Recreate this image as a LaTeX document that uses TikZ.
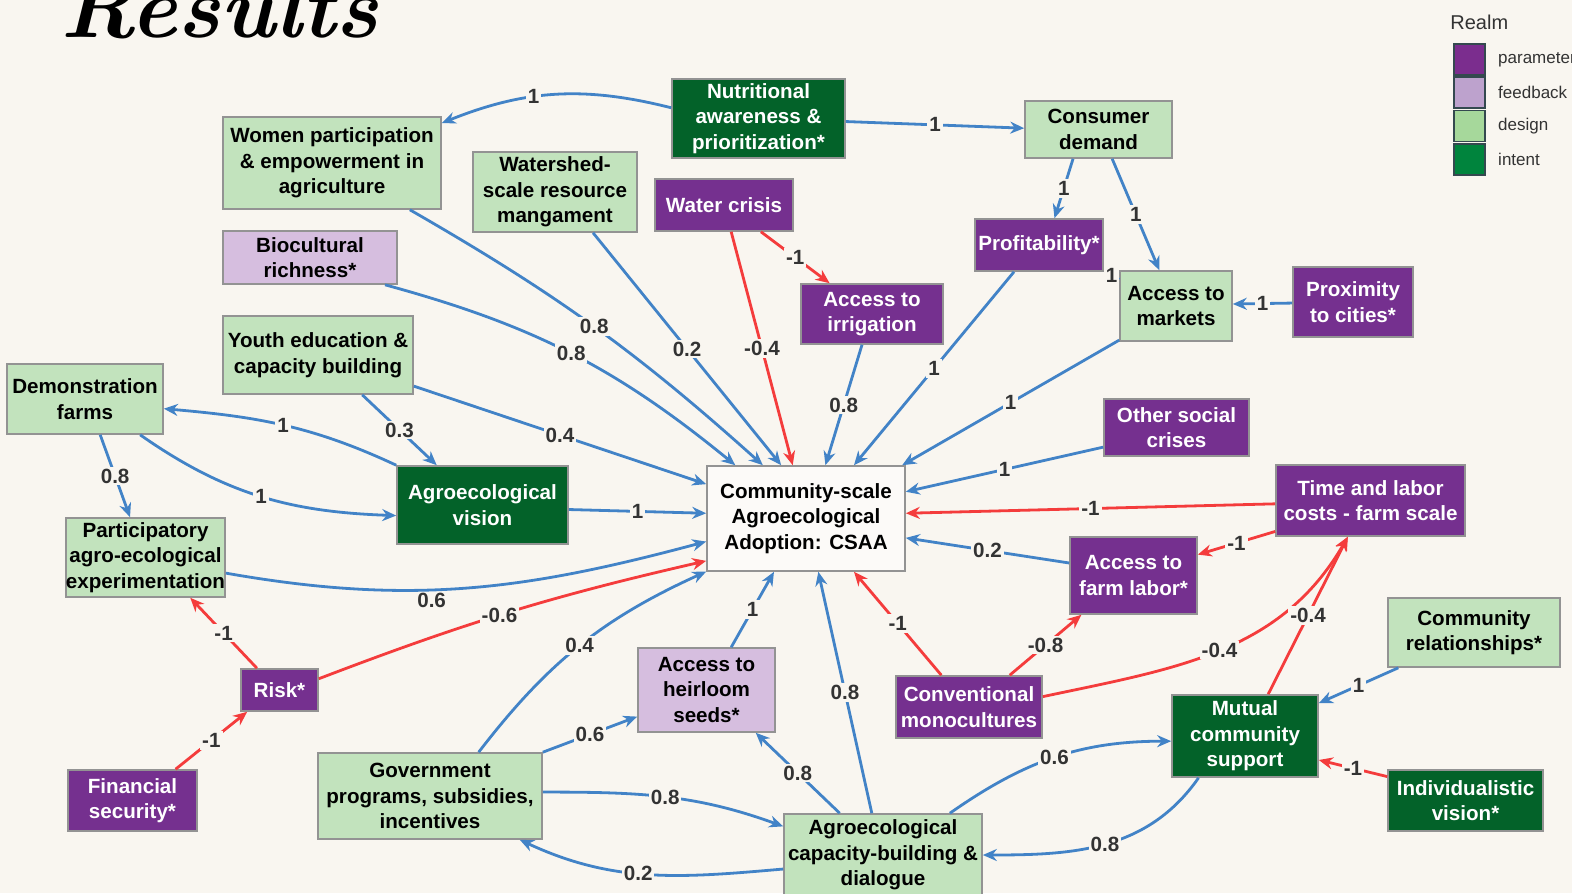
\documentclass[tikz,border=0pt]{standalone}
\usepackage{fontspec}
\newfontfamily\arialfont{Liberation Sans}
\usetikzlibrary{arrows.meta,positioning}

\definecolor{bg}{HTML}{F9F6F0}
\definecolor{parcol}{HTML}{75308F}
\definecolor{fbcol}{HTML}{D6BEDF}
\definecolor{descol}{HTML}{C2E3BD}
\definecolor{intcol}{HTML}{036229}
\definecolor{edgeblue}{HTML}{4283C7}
\definecolor{edgered}{HTML}{F43C3C}
\definecolor{rim}{HTML}{939393}
\definecolor{wtcol}{HTML}{333333}
\definecolor{legpar}{HTML}{7B2D8E}
\definecolor{legfb}{HTML}{BDA2CD}
\definecolor{legdes}{HTML}{A6D89B}
\definecolor{legint}{HTML}{00843D}
\definecolor{legrim}{HTML}{34494F}

\begin{document}
\begin{tikzpicture}[
  x=0.5pt, y=-0.5pt,
  every node/.style = {
    font=\arialfont\bfseries\fontsize{10.3}{12.75}\selectfont,
    align=center
  },
  box/.style 2 args = {
    shape=rectangle,
    draw=rim,
    line width=0.8pt,
    inner sep=0pt,
    minimum width=#1pt,
    minimum height=#2pt
  },
  param/.style = {fill=parcol, text=white},
  feedback/.style = {fill=fbcol, text=black},
  design/.style = {fill=descol, text=black},
  intent/.style = {fill=intcol, text=white},
  target/.style = {fill=bg!50!white, text=black},
  poslink/.style = {draw=edgeblue, line width=1.4pt, -{Stealth[length=7pt, width=6pt]}},
  neglink/.style = {draw=edgered, line width=1.4pt, -{Stealth[length=7pt, width=6pt]}},
  wt/.style = {fill=bg, text=wtcol, inner sep=1pt},
  legtext/.style = {font=\arialfont\fontsize{8.5}{10}\selectfont, text=wtcol, inner sep=0pt}
]

\useasboundingbox (0,0) rectangle (1572,893);
\fill[bg] (0,0) rectangle (1572,893);

\node[font=\fontsize{44}{50}\selectfont\bfseries\itshape, anchor=base west, inner sep=0pt] (title) at (60,38) {Results};

% factors
\node[box={109}{46}, design] (women) at (332,163) {Women participation\\\& empowerment in\\agriculture};
\node[box={87}{26.5}, feedback] (bio) at (310,257.5) {Biocultural\\richness*};
\node[box={82}{40}, design] (watershed) at (555,192) {Watershed-\\scale resource\\mangament};
\node[box={86.5}{39.5}, intent] (nutri) at (758.5,118.5) {Nutritional\\awareness \&\\prioritization*};
\node[box={69}{26}, param] (crisis) at (724,205) {Water crisis};
\node[box={73.5}{28.5}, design] (consumer) at (1098.5,129.5) {Consumer\\demand};
\node[box={64}{26}, param] (profit) at (1039,245) {Profitability*};
\node[box={56}{35}, design] (markets) at (1176,306) {Access to\\markets};
\node[box={60}{35}, param] (proximity) at (1353,302) {Proximity\\to cities*};
\node[box={71}{30}, param] (irrig) at (872,314) {Access to\\irrigation};
\node[box={95}{39}, design] (youth) at (318,355) {Youth education \&\\capacity building};
\node[box={78}{35}, design] (demo) at (85,399) {Demonstration\\farms};
\node[box={85.5}{39}, intent] (vision) at (482.5,505) {Agroecological\\vision};
\node[box={99}{52.5}, target] (csaa) at (806,518.5) {Community-scale\\Agroecological\\Adoption: CSAA};
\node[box={72.5}{28.5}, param] (social) at (1176.5,427.5) {Other social\\crises};
\node[box={94.5}{35.5}, param] (timelabor) at (1370.5,500.5) {Time and labor\\costs - farm scale};
\node[box={63.5}{38.5}, param] (farmlabor) at (1133.5,575.5) {Access to\\farm labor*};
\node[box={77.5}{39.5}, design] (partic) at (145.5,557.5) {Participatory\\agro-ecological\\experimentation};
\node[box={38.5}{21}, param] (risk) at (279.5,690) {Risk*};
\node[box={64.5}{30.5}, param] (finance) at (132.5,800.5) {Financial\\security*};
\node[box={112}{43}, design] (gov) at (430,796) {Government\\programs, subsidies,\\incentives};
\node[box={68.5}{42}, feedback] (seeds) at (706.5,690) {Access to\\heirloom\\seeds*};
\node[box={73}{31}, param] (conv) at (969,707) {Conventional\\monocultures};
\node[box={99}{41}, design] (capacity) at (883,855) {Agroecological\\capacity-building \&\\dialogue};
\node[box={73}{41}, intent] (mutual) at (1245,736) {Mutual\\community\\support};
\node[box={86}{34.5}, design] (commrel) at (1474,632.5) {Community\\relationships*};
\node[box={77.5}{30.5}, intent] (indiv) at (1465.5,800.5) {Individualistic\\vision*};

% positive links
\draw[poslink] (nutri.173) to[bend right=18] node[wt, pos=0.6]{1} (women.20);
\draw[poslink] (nutri.-2) -- node[wt]{1} (consumer.179);
\draw[poslink] (consumer.229) -- node[wt]{1} (profit.60);
\draw[poslink] (consumer.295) -- node[wt]{1} (markets.115);
\draw[poslink] (markets.155) -- node[wt]{1} (profit.south east);
\draw[poslink] (proximity.181) -- node[wt]{1} (markets.2);
\draw[poslink] (markets.211) -- node[wt]{1} (csaa.29);
\draw[poslink] (profit.227) -- node[wt]{1} (csaa.48);
\draw[poslink] (irrig.252) -- node[wt]{0.8} (csaa.70);
\draw[poslink] (watershed.313) -- node[wt]{0.2} (csaa.115);
\draw[poslink] (women.329) to[bend left=6] node[wt]{0.8} (csaa.129);
\draw[poslink] (bio.340) to[bend left=12] node[wt]{0.8} (csaa.143);
\draw[poslink] (youth.342) -- node[wt]{0.4} (csaa.161);
\draw[poslink] (youth.318) -- node[wt]{0.3} (vision.139);
\draw[poslink] (vision.north west) to[out=155, in=-5] node[wt]{1} (demo.353);
\draw[poslink] (demo.327) to[out=-35, in=178] node[wt]{1} (vision.187);
\draw[poslink] (demo.293) -- node[wt]{0.8} (partic.111);
\draw[poslink] (vision.357) -- node[wt]{1} (csaa.177);
\draw[poslink] (partic.349) to[out=-10, in=195] node[wt, pos=0.42, below=0pt, fill=none]{0.6} (csaa.193);
\draw[poslink] (gov.42) to[bend left=14] node[wt, pos=0.5]{0.4} (csaa.208);
\draw[poslink] (gov.north east) -- node[wt]{0.6} (seeds.201);
\draw[poslink] (gov.2) to[out=0, in=160] node[wt]{0.8} (capacity.164);
\draw[poslink] (capacity.188) to[out=185, in=-25] node[wt, pos=0.54]{0.2} (gov.334);
\draw[poslink] (seeds.60) -- node[wt]{1} (csaa.239);
\draw[poslink] (capacity.136) -- node[wt]{0.8} (seeds.319);
\draw[poslink] (capacity.105) -- node[wt]{0.8} (csaa.283);
\draw[poslink] (social.195) -- node[wt]{1} (csaa.15);
\draw[poslink] (farmlabor.169) -- node[wt]{0.2} (csaa.349);
\draw[poslink] (capacity.32) to[out=35, in=180] node[wt]{0.6} (mutual.184);
\draw[poslink] (mutual.222) to[out=235, in=0] node[wt]{0.8} (capacity.0);
\draw[poslink] (commrel.205) -- node[wt]{1} (mutual.24);

% negative links
\draw[neglink] (crisis.324) -- node[wt]{-1} (irrig.144);
\draw[neglink] (crisis.285) -- node[wt]{-0.4} (csaa.104);
\draw[neglink] (risk.136) -- node[wt]{-1} (partic.318);
\draw[neglink] (finance.36) -- node[wt]{-1} (risk.214);
\draw[neglink] (risk.16) to[bend left=4] node[wt, pos=0.47]{-0.6} (csaa.203);
\draw[neglink] (conv.131) -- node[wt]{-1} (csaa.312);
\draw[neglink] (conv.38) -- node[wt]{-0.8} (farmlabor.217);
\draw[neglink] (conv.8) to[out=12, in=240] node[wt]{-0.4} (timelabor.238);
\draw[neglink] (mutual.61) -- node[wt]{-0.4} (timelabor.238);
\draw[neglink] (timelabor.198) -- node[wt]{-1} (farmlabor.18);
\draw[neglink] (timelabor.182) -- node[wt]{-1} (csaa.3);
\draw[neglink] (indiv.163) -- node[wt]{-1} (mutual.342);

% legend
\node[legtext, font=\arialfont\fontsize{10}{12}\selectfont, anchor=base west] (realm) at (1450,30) {Realm};
\foreach \col/\txt [count=\i] in {legpar/parameter, legfb/feedback, legdes/design, legint/intent} {
  \node[draw=legrim, line width=0.8pt, fill=\col, minimum width=15.5pt, minimum height=15.5pt, inner sep=0pt]
    (sw\i) at (1469.5,{59.5+33.3*(\i-1)}) {};
  \node[legtext, right=6pt of sw\i] (lab\i) {\txt};
}

\end{tikzpicture}
\end{document}
